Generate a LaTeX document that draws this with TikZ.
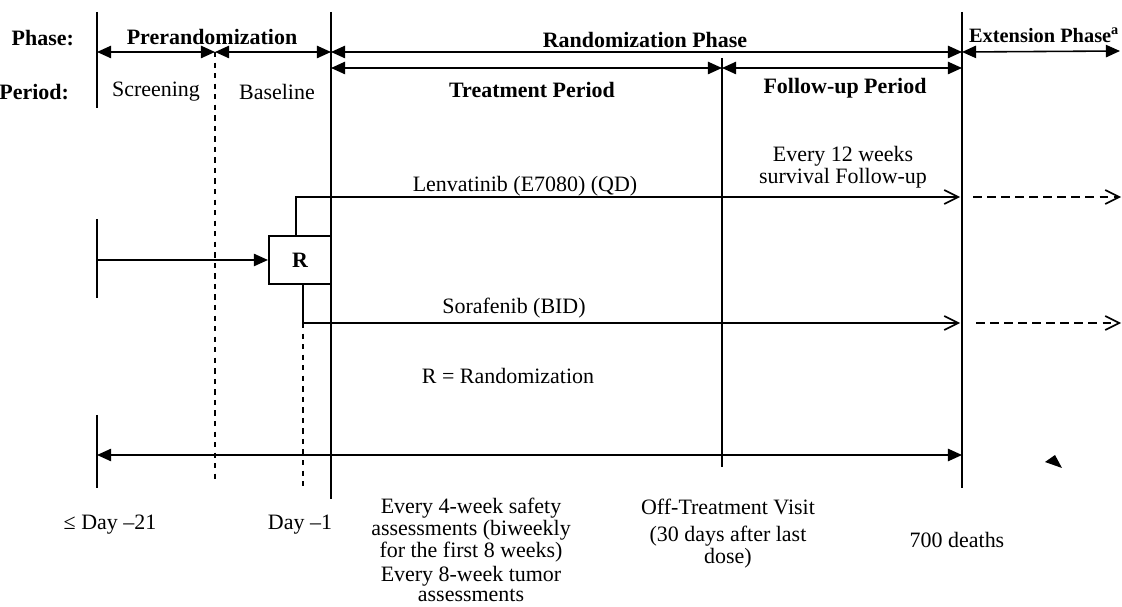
\documentclass[tikz,border=0pt]{standalone}
\usepackage{fontspec}
\setmainfont{Liberation Serif}
\usetikzlibrary{arrows.meta}

\tikzset{
  vline/.style={line width=0.9pt},
  dline/.style={line width=0.9pt, dashed},
  span/.style={line width=0.9pt, {Triangle[length=8pt,width=7pt]}-{Triangle[length=8pt,width=7pt]}},
  tohead/.style={line width=0.9pt, -{Triangle[length=8pt,width=7pt]}},
  openarrow/.style={line width=0.9pt, -{Straight Barb[length=8pt,width=8pt]}},
  dopenarrow/.style={openarrow, dash pattern=on 5pt off 3pt},
  head/.style={font=\fontsize{12.5}{13}\selectfont\bfseries, inner sep=1pt},
  lbl/.style={font=\fontsize{12.5}{12.3}\selectfont, inner sep=1pt, align=center},
  rbox/.style={draw, line width=1.2pt, minimum width=1.24cm, minimum height=0.96cm, inner sep=0pt}
}

\begin{document}
\begin{tikzpicture}[x=0.02cm, y=-0.02cm]
  \useasboundingbox (0,0) rectangle (1122,607);

  % Row titles
  \node[head, anchor=east] (phaseLbl) at (76,38) {Phase:};
  \node[head, anchor=east] (periodLbl) at (71,92) {Period:};

  % Boundary lines
  \draw[vline] (97,12) -- (97,108);
  \draw[dline] (215,52) -- (215,483);
  \draw[vline, line width=1.3pt] (331,12) -- (331,499);
  \draw[vline] (722,58) -- (722,467);
  \draw[vline, line width=1.1pt] (962,12) -- (962,488);

  % Phase row
  \coordinate (p0) at (97,52);
  \coordinate (p1) at (215,52);
  \coordinate (p2) at (331,52);
  \coordinate (p3) at (962,52);
  \coordinate (p4) at (1120,51);
  \draw[span] (p0) -- (p1);
  \draw[span] (p1) -- (p2);
  \draw[span] (p2) -- (p3);
  \draw[span] (p3) -- (p4);
  \node[head] (preRand) at (212,37) {Prerandomization};
  \node[head] (randPhase) at (645,40) {Randomization Phase};
  \node[head, font=\fontsize{11.6}{12}\selectfont\bfseries, anchor=west] (extPhase) at (967,35) {Extension Phase\textsuperscript{a}};

  % Period row
  \coordinate (q0) at (331,68);
  \coordinate (q1) at (722,68);
  \coordinate (q2) at (962,68);
  \draw[span] (q0) -- (q1);
  \draw[span] (q1) -- (q2);
  \node[lbl] (screening) at (156,92) {Screening};
  \node[lbl] (baseline) at (277,92) {Baseline};
  \node[head] (treatPer) at (532,90) {Treatment Period};
  \node[head] (followPer) at (845,88) {Follow-up Period};

  % Randomization
  \node[rbox] (rand) at (300,260) {\fontsize{12.5}{13}\selectfont\bfseries R};
  \draw[vline] (97,219) -- (97,298);
  \coordinate (entry) at (97,260);
  \draw[tohead] (entry) -- (rand.west);

  % Treatment arms
  \coordinate (lenStart) at (296,197);
  \coordinate (lenEnd) at (960,197);
  \coordinate (sorStart) at (303,323);
  \coordinate (sorEnd) at (960,323);
  \draw[openarrow] (rand.north -| lenStart) -- (lenStart) -- (lenEnd);
  \draw[openarrow] (rand.south -| sorStart) -- (sorStart) -- (sorEnd);
  \draw[dline] (sorStart) -- (303,487);
  \coordinate (lenExt) at (973,197);
  \coordinate (lenExtEnd) at (1121,197);
  \coordinate (sorExt) at (976,323);
  \coordinate (sorExtEnd) at (1121,323);
  \draw[dopenarrow] (lenExt) -- (lenExtEnd);
  \draw[dopenarrow] (sorExt) -- (sorExtEnd);
  \node[lbl] (lenv) at (525,186) {Lenvatinib (E7080) (QD)};
  \node[lbl] (sora) at (514,308) {Sorafenib (BID)};
  \node[lbl] (randKey) at (508,376) {R = Randomization};
  \node[lbl] (survival) at (843,167) {Every 12 weeks\\survival Follow-up};

  % Timeline
  \draw[vline] (97,415) -- (97,488);
  \coordinate (b0) at (97,455);
  \coordinate (b1) at (962,455);
  \draw[span] (b0) -- (b1);
  \fill (1045,462) -- (1055,455) -- (1062,468) -- cycle;

  % Time points
  \node[lbl] (dayA) at (110,525) {≤ Day –21};
  \node[lbl] (dayB) at (300,525) {Day –1};
  \node[lbl] (safety) at (471,530) {Every 4-week safety\\assessments (biweekly\\for the first 8 weeks)};
  \node[lbl, font=\fontsize{12.5}{11.5}\selectfont] (tumor) at (471,584) {Every 8-week tumor\\assessments};
  \node[lbl] (offTreat) at (728,507) {Off-Treatment Visit};
  \node[lbl, font=\fontsize{12.5}{11}\selectfont] (offDays) at (728,547) {(30 days after last\\dose)};
  \node[lbl] (deaths) at (957,540) {700 deaths};
\end{tikzpicture}
\end{document}
